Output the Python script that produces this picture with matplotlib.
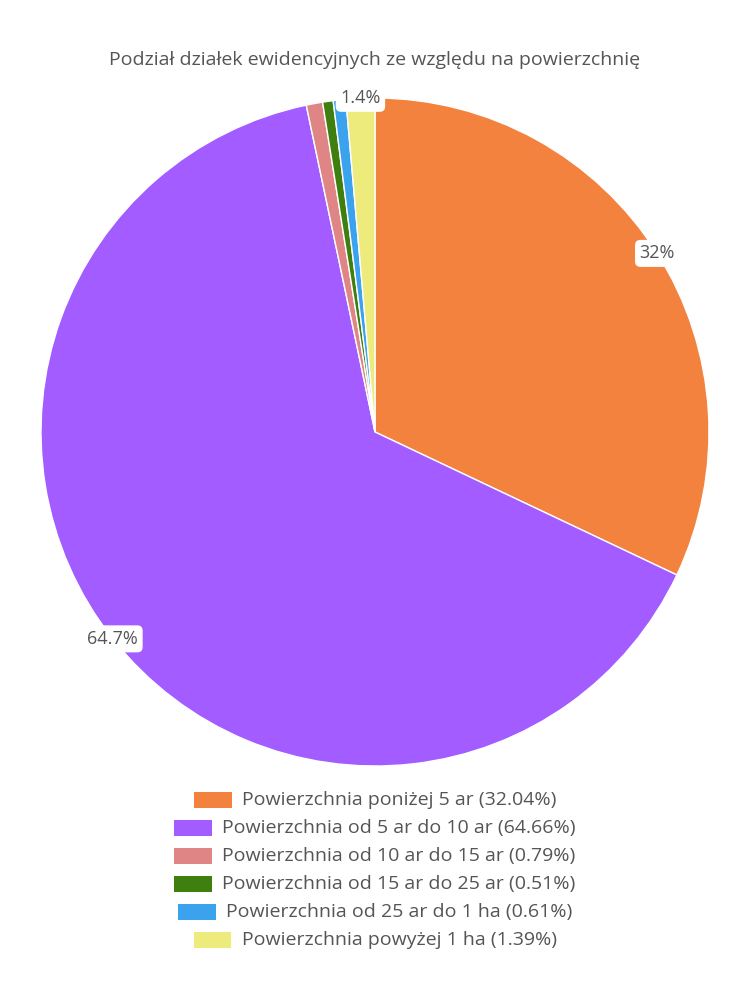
import matplotlib
matplotlib.use("Agg")
import matplotlib.pyplot as plt
from matplotlib.patches import Rectangle
import numpy as np

plt.rcParams['font.family'] = ['Open Sans', 'DejaVu Sans']

title = "Podział działek ewidencyjnych ze względu na powierzchnię"
categories = [
    "Powierzchnia poniżej 5 ar",
    "Powierzchnia od 5 ar do 10 ar",
    "Powierzchnia od 10 ar do 15 ar",
    "Powierzchnia od 15 ar do 25 ar",
    "Powierzchnia od 25 ar do 1 ha",
    "Powierzchnia powyżej 1 ha",
]
shares = [32.04, 64.66, 0.79, 0.51, 0.61, 1.39]
colors = ["#F4823F", "#A25CFF", "#E08585", "#3F7F0F", "#3BA3EE", "#EEEB7D"]

TXT = "#555555"

fig = plt.figure(figsize=(7.5, 10), dpi=100)
ax = fig.add_axes([41 / 750, 234 / 1000, 668 / 750, 668 / 1000])

wedges, _ = ax.pie(shares, colors=colors, startangle=90, counterclock=False,
                   radius=1.0, wedgeprops=dict(edgecolor="white", linewidth=1))
ax.set_xlim(-1, 1)
ax.set_ylim(-1, 1)
ax.set_aspect("equal")
ax.axis("off")

# value labels on the rim, only for slices above 1%
total = sum(shares)
cum = 0.0
for v in shares:
    mid = (cum + v / 2) / total * 2 * np.pi
    cum += v
    if v < 1:
        continue
    x, y = np.sin(mid), np.cos(mid)
    lab = f"{v:.1f}".rstrip("0").rstrip(".") + "%"
    ax.text(x, y, lab, ha="center", va="center", fontsize=13, color=TXT,
            bbox=dict(boxstyle="round,pad=0.25,rounding_size=0.3", fc="white", ec="none"))

fig.text(0.5, 0.94, title, ha="center", va="center", fontsize=14, color=TXT)

# legend: each row centered on its own
fig.canvas.draw()
renderer = fig.canvas.get_renderer()
W, H = 750, 1000
box_w, box_h, gap = 38, 16, 10
for i, (c, v, col) in enumerate(zip(categories, shares, colors)):
    ypix = 800 + 28 * i
    t = fig.text(0, 1 - ypix / H, f"{c} ({v:.2f}%)", ha="left", va="center",
                 fontsize=14, color=TXT)
    tw = t.get_window_extent(renderer).width
    total_w = box_w + gap + tw
    x0 = (W - total_w) / 2
    t.set_x((x0 + box_w + gap) / W)
    fig.patches.append(Rectangle((x0 / W, 1 - (ypix + box_h / 2) / H), box_w / W, box_h / H,
                                 transform=fig.transFigure, facecolor=col, edgecolor="none"))

fig.savefig("out.png", dpi=100, facecolor="white")
